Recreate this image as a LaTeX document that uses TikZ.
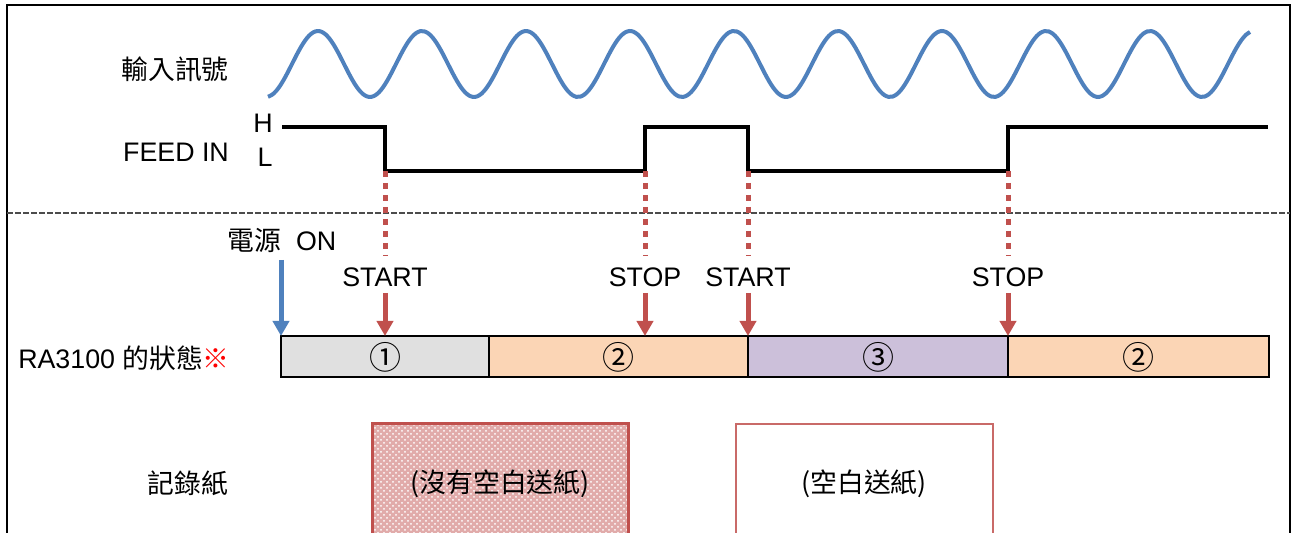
\documentclass[tikz,border=0pt]{standalone}
\usepackage{fontspec}
\setmainfont{Liberation Sans}
\newfontfamily\cjk{Noto Sans CJK TC}
\usepackage{tikz}
\usetikzlibrary{arrows.meta,patterns}
\definecolor{sigBlue}{RGB}{79, 129, 189}
\definecolor{markRed}{RGB}{192, 80, 77}
\definecolor{cellGray}{RGB}{224, 224, 224}
\definecolor{cellPeach}{RGB}{251, 213, 181}
\definecolor{cellLilac}{RGB}{204, 192, 218}
\tikzset{
    lbl/.style={inner sep=1pt, font=\fontsize{13.4}{15}\selectfont},
    feedline/.style={line width=2pt, line join=miter},
    cellbox/.style={draw, line width=0.8pt},
    marker/.style={markRed, line width=2.5pt, dash pattern=on 3pt off 3pt},
    downarrow/.style={line width=2.5pt, -{Triangle[length=7.5pt, width=8pt]}},
}

\begin{document}
\begin{tikzpicture}[x=0.5pt, y=-0.5pt]
    \clip (0,0) rectangle (1292,533);
    \fill[white] (0,0) rectangle (1292,533);
    \draw[line width=1pt] (7,545) -- (7,5) -- (1290,5) -- (1290,545);
    \draw[gray!60!black, line width=0.6pt, dash pattern=on 3pt off 1pt] (7,213) -- (1290,213);
    % signal
    \node[lbl] (sig) at (175,69) {\cjk 輸入訊號};
    \draw[sigBlue, line width=2pt, domain=268:1250, samples=240, smooth]
        plot (\x, {64 - 33*cos((\x-318)/104*360)});
    % feed in
    \node[lbl] (feed) at (176,152) {FEED IN};
    \node[lbl] (hi) at (263,123) {H};
    \node[lbl] (lo) at (265,157) {L};
    \coordinate (e1) at (385,171);
    \coordinate (e2) at (645,171);
    \coordinate (e3) at (748,171);
    \coordinate (e4) at (1008,171);
    \draw[feedline] (282,127) -| (e1) -- (e2) |- (e3 |- 0,127) -- (e3) -- (e4) |- (1268,127);
    % state bar
    \foreach \a/\b/\c/\t [count=\i] in {281/489/cellGray/①, 489/748/cellPeach/②, 748/1008/cellLilac/③, 1008/1269/cellPeach/②} {
        \draw[cellbox, fill=\c] (\a,336) rectangle (\b,377);
        \node[lbl, font=\fontsize{16}{16}\selectfont] (c\i) at ({(\a+\b)/2},357) {\cjk \t};
    }
    \node[lbl] (state) at (124,358) {RA3100 {\cjk 的狀態}{\cjk\color{red}※}};
    \node[lbl] (pwr) at (282,240) {{\cjk 電源}\ \ ON};
    \coordinate (on) at (281,336);
    \draw[downarrow, sigBlue] (281,260) -- (on);
    \foreach \t/\i in {START/1, STOP/2, START/3, STOP/4} {
        \node[lbl] (l\i) at (e\i |- 0,277) {\t};
        \draw[marker] (e\i) -- ([yshift=5pt]l\i.north);
        \draw[downarrow, markRed, shorten <=2pt] (l\i.south) -- (l\i.south |- on);
    }
    % paper
    \node[lbl] (paper) at (188,483) {\cjk 記錄紙};
    \fill[markRed!48] (372,424) rectangle (628,545);
    \fill[pattern=crosshatch dots, pattern color=white] (372,424) rectangle (628,545);
    \draw[markRed, line width=1.5pt] (372,545) |- (628,424) -- (628,545);
    \node[lbl] (gap0) at (500,484) {\cjk (沒有空白送紙)};
    \draw[markRed!85, line width=0.8pt] (736,545) |- (993,424) -- (993,545);
    \node[lbl] (gap1) at (864,484) {\cjk (空白送紙)};
\end{tikzpicture}
\end{document}
